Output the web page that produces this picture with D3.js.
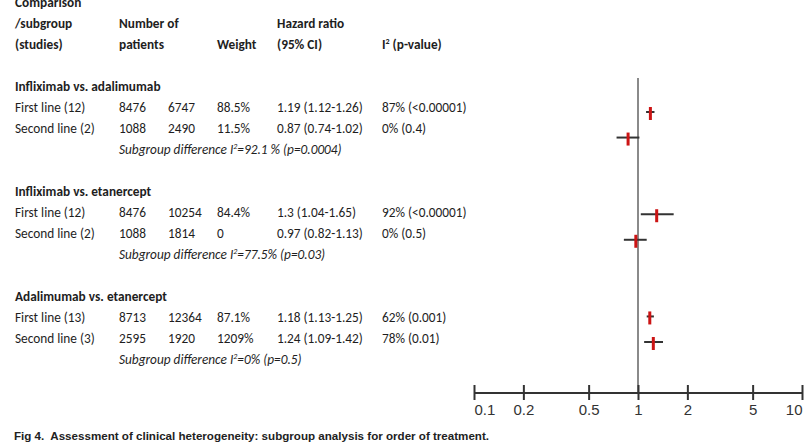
<!DOCTYPE html>
<html>
<head>
<meta charset="utf-8">
<script src="https://cdn.jsdelivr.net/npm/d3@7"></script>
<style>
  html, body { margin: 0; padding: 0; background: #fff; }
  svg { display: block; }
  text { white-space: pre; }
</style>
</head>
<body>
<svg id="chart" width="805" height="443"></svg>
<script>
// ---------- data ----------
const comparisons = ["Infliximab vs. adalimumab", "Infliximab vs. etanercept", "Adalimumab vs. etanercept"];
const subgroups = [
  ["First line (12)", "Second line (2)"],
  ["First line (12)", "Second line (2)"],
  ["First line (13)", "Second line (3)"]
];
const patientsA = [[8476, 1088], [8476, 1088], [8713, 2595]];
const patientsB = [[6747, 2490], [10254, 1814], [12364, 1920]];
const weights = [["88.5%", "11.5%"], ["84.4%", "0"], ["87.1%", "1209%"]];
const hr = [[1.19, 0.87], [1.3, 0.97], [1.18, 1.24]];
const ciLow = [[1.12, 0.74], [1.04, 0.82], [1.13, 1.09]];
const ciHigh = [[1.26, 1.02], [1.65, 1.13], [1.25, 1.42]];
const i2Text = [["87% (<0.00001)", "0% (0.4)"], ["92% (<0.00001)", "0% (0.5)"], ["62% (0.001)", "78% (0.01)"]];
const subgroupDiff = [["=92.1 % (p=0.0004)"], ["=77.5% (p=0.03)"], ["=0% (p=0.5)"]];
const tickValues = [0.1, 0.2, 0.5, 1, 2, 5, 10];
const caption = "Fig 4.  Assessment of clinical heterogeneity: subgroup analysis for order of treatment.";

// ---------- layout ----------
const svg = d3.select("#chart");
svg.append("rect").attr("width", 805).attr("height", 443).attr("fill", "#fff");

const tableFont = "Carlito, Lato, 'Open Sans', sans-serif";
const textColor = "#1e1e1e";
const colX = [15, 119, 168, 217, 277, 382];
const rowY = i => 7 + 21 * i;

const table = svg.append("g")
  .attr("font-family", tableFont)
  .attr("font-size", 13.3)
  .attr("fill", textColor);

function txt(col, row, s, opts = {}) {
  const t = table.append("text")
    .attr("x", colX[col])
    .attr("y", rowY(row))
    .text(s);
  if (opts.bold) t.attr("font-weight", "bold");
  if (opts.italic) t.attr("font-style", "italic");
  return t;
}

// header
txt(0, 0, "Comparison", {bold: true});
txt(0, 1, "/subgroup", {bold: true});
txt(0, 2, "(studies)", {bold: true});
txt(1, 1, "Number of", {bold: true});
txt(1, 2, "patients", {bold: true});
txt(3, 2, "Weight", {bold: true});
txt(4, 1, "Hazard ratio", {bold: true});
txt(4, 2, "(95% CI)", {bold: true});
{
  const t = txt(5, 2, "I", {bold: true});
  t.append("tspan").attr("font-size", 8).attr("dy", -5).text("2");
  t.append("tspan").attr("dy", 5).text(" (p-value)");
}

// groups
comparisons.forEach((name, g) => {
  const base = 4 + 5 * g;
  txt(0, base, name, {bold: true});
  subgroups[g].forEach((sg, r) => {
    const row = base + 1 + r;
    txt(0, row, sg);
    txt(1, row, String(patientsA[g][r]));
    txt(2, row, String(patientsB[g][r]));
    txt(3, row, weights[g][r]);
    txt(4, row, `${hr[g][r]} (${ciLow[g][r]}-${ciHigh[g][r]})`);
    txt(5, row, i2Text[g][r]);
  });
  const t = txt(1, base + 3, "Subgroup difference I", {italic: true});
  t.append("tspan").attr("font-size", 8).attr("dy", -5).text("2");
  t.append("tspan").attr("dy", 5).text(subgroupDiff[g][0]);
});

// ---------- forest plot ----------
const x = d3.scaleLog().domain([0.1, 10]).range([474, 802]);
const axisY = 393;
const y = d3.scaleLinear().domain([0, 9]).range([112, 342]);

const plot = svg.append("g");

// reference line at HR = 1
plot.append("line")
  .attr("x1", x(1)).attr("x2", x(1))
  .attr("y1", 78).attr("y2", axisY)
  .attr("stroke", "#8a8a8a").attr("stroke-width", 2);

// markers
const points = [];
hr.forEach((arr, g) => arr.forEach((v, r) => points.push({
  idx: g * 4 + r, hr: v, lo: ciLow[g][r], hi: ciHigh[g][r]
})));

plot.selectAll("line.ci").data(points).join("line")
  .attr("class", "ci")
  .attr("x1", d => x(d.lo)).attr("x2", d => x(d.hi))
  .attr("y1", d => y(d.idx)).attr("y2", d => y(d.idx))
  .attr("stroke", "#333").attr("stroke-width", 2);

plot.selectAll("rect.est").data(points).join("rect")
  .attr("class", "est")
  .attr("x", d => x(d.hr) - 1.5)
  .attr("y", d => y(d.idx) - 5)
  .attr("width", 3).attr("height", 13)
  .attr("fill", "#cc1414");

// axis
const axis = d3.axisBottom(x)
  .tickValues(tickValues)
  .tickFormat(d => String(d))
  .tickSize(7)
  .tickPadding(10);

const axG = svg.append("g")
  .attr("transform", `translate(0,${axisY})`)
  .call(axis);

axG.select(".domain")
  .attr("d", `M${x(0.1)},0H${x(10)}`)
  .attr("stroke", "#333").attr("stroke-width", 2);
axG.selectAll(".tick line")
  .attr("y1", -8).attr("y2", 7)
  .attr("stroke", "#333").attr("stroke-width", 2);
axG.selectAll(".tick text")
  .attr("font-family", "'Liberation Sans', Arial, sans-serif")
  .attr("font-size", 15)
  .attr("fill", "#333")
  .attr("dy", "0.71em")
  .attr("y", 11)
  .attr("text-anchor", (d, i) => i === 0 ? "start" : (i === tickValues.length - 1 ? "end" : "middle"));

// caption
svg.append("text")
  .attr("x", 14).attr("y", 440)
  .attr("font-family", "'Liberation Sans', Arial, sans-serif")
  .attr("font-weight", "bold")
  .attr("font-size", 11.6)
  .attr("fill", "#222")
  .text(caption);
</script>
</body>
</html>
